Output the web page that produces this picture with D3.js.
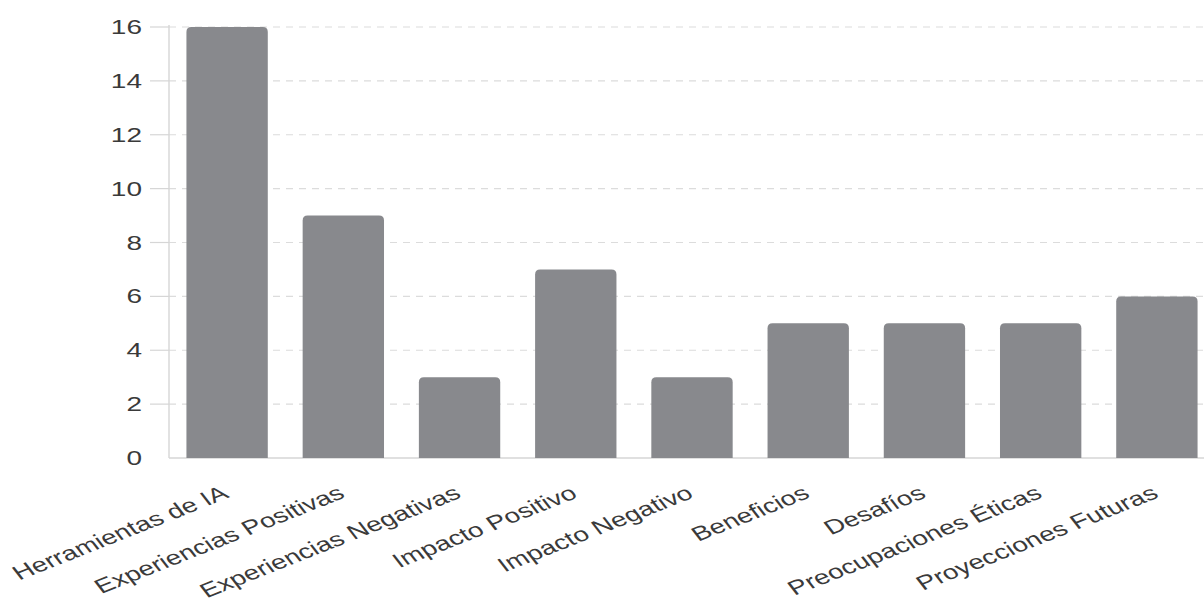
<!DOCTYPE html>
<html>
<head>
<meta charset="utf-8">
<script src="https://cdn.jsdelivr.net/npm/d3@7"></script>
<style>
  html, body { margin: 0; padding: 0; background: #fff; }
  svg { display: block; }
  text { font-family: "Liberation Sans", Arial, Helvetica, sans-serif; fill: #3a3a3a; }
</style>
</head>
<body>
<svg id="chart" width="1204" height="603"></svg>
<script>
const categories = ["Herramientas de IA", "Experiencias Positivas", "Experiencias Negativas", "Impacto Positivo", "Impacto Negativo", "Beneficios", "Desafíos", "Preocupaciones Éticas", "Proyecciones Futuras"];
const values = [16, 9, 3, 7, 3, 5, 5, 5, 6];
const yTicks = [0, 2, 4, 6, 8, 10, 12, 14, 16];

const W = 1204, H = 603;
const plotLeft = 169, plotBottom = 458, plotTop = 27, rightRange = 1215;
const stretch = 1.4;

const svg = d3.select("#chart");

const x = d3.scaleBand().domain(categories).range([plotLeft, rightRange]).paddingInner(0.3).paddingOuter(0.15);
const y = d3.scaleLinear().domain([0, 16]).range([plotBottom, plotTop]);

// grid lines
svg.append("g").selectAll("line").data(yTicks.filter(d => d > 0)).join("line")
  .attr("x1", plotLeft).attr("x2", W)
  .attr("y1", d => y(d)).attr("y2", d => y(d))
  .attr("stroke", "#dcdcdc").attr("stroke-width", 1.2)
  .attr("stroke-dasharray", "7,6");

// left tick marks
svg.append("g").selectAll("line").data(yTicks.filter(d => d > 0)).join("line")
  .attr("x1", 150).attr("x2", plotLeft)
  .attr("y1", d => y(d)).attr("y2", d => y(d))
  .attr("stroke", "#d6d6d6").attr("stroke-width", 1.2);

// axis lines
svg.append("line").attr("x1", plotLeft).attr("x2", plotLeft).attr("y1", y(16) - 2).attr("y2", plotBottom)
  .attr("stroke", "#d6d6d6").attr("stroke-width", 1.4);
svg.append("line").attr("x1", plotLeft).attr("x2", W).attr("y1", plotBottom).attr("y2", plotBottom)
  .attr("stroke", "#d6d6d6").attr("stroke-width", 1.4);

// bars with rounded top corners
const r = 5;
svg.append("g").selectAll("path").data(categories).join("path")
  .attr("fill", "#88898d")
  .attr("d", (c, i) => {
    const x0 = x(c), w = x.bandwidth(), y0 = y(values[i]), yb = y(0);
    return `M${x0},${yb} L${x0},${y0 + r} Q${x0},${y0} ${x0 + r},${y0} L${x0 + w - r},${y0} Q${x0 + w},${y0} ${x0 + w},${y0 + r} L${x0 + w},${yb} Z`;
  });

// y tick labels
svg.append("g").selectAll("text").data(yTicks).join("text")
  .attr("transform", d => `translate(142,${y(d)}) scale(${stretch},1)`)
  .attr("text-anchor", "end")
  .attr("dy", "0.35em")
  .attr("font-size", 20)
  .text(d => d);

// x labels rotated
svg.append("g").selectAll("text").data(categories).join("text")
  .attr("transform", c => `translate(${x(c) + x.bandwidth() / 2 + 3},497) scale(${stretch},1) rotate(-29)`)
  .attr("text-anchor", "end")
  .attr("font-size", 20)
  .text(c => c);
</script>
</body>
</html>
